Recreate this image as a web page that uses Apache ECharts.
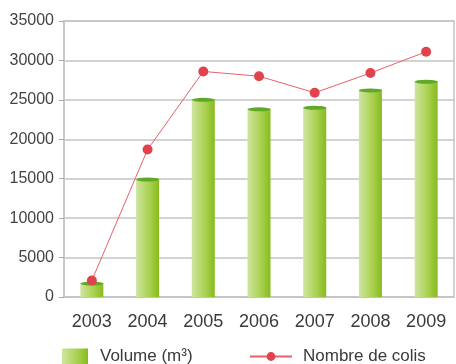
<!DOCTYPE html>
<html>
<head>
<meta charset="utf-8">
<script src="https://cdn.jsdelivr.net/npm/echarts@6/dist/echarts.min.js"></script>
<style>
  html, body { margin: 0; padding: 0; background: #fff; }
  #chart { width: 456px; height: 364px; }
</style>
</head>
<body>
<div id="chart"></div>
<script>
var years = ['2003', '2004', '2005', '2006', '2007', '2008', '2009'];
var volume = [1800, 15000, 25100, 23900, 24100, 26300, 27400];
var colis = [2100, 18700, 28600, 28000, 25900, 28400, 31100];
var yTicks = [0, 5000, 10000, 15000, 20000, 25000, 30000, 35000];

var chart = echarts.init(document.getElementById('chart'));

var barFill = new echarts.graphic.LinearGradient(0, 0, 1, 0, [
  { offset: 0, color: '#cfe5a0' },
  { offset: 0.6, color: '#a8d04e' },
  { offset: 1, color: '#86bb1c' }
]);

var font = 'Liberation Sans';

chart.setOption({
  animation: false,
  grid: {
    left: 64, right: 2, top: 21, bottom: 67,
    show: true, borderColor: '#c4c4c4', borderWidth: 1.5
  },
  legend: [
    {
      left: 62, top: 348, padding: 0,
      itemWidth: 26, itemHeight: 16,
      textStyle: { fontSize: 17, color: '#3a3a3a', fontFamily: font, padding: [0, 0, 0, 7] },
      data: [{ name: 'Volume (m³)', icon: 'rect' }]
    },
    {
      left: 249, top: 348, padding: 0,
      itemWidth: 42, itemHeight: 11,
      textStyle: { fontSize: 17, color: '#3a3a3a', fontFamily: font, padding: [0, 0, 0, 6] },
      data: [{ name: 'Nombre de colis' }]
    }
  ],
  xAxis: {
    type: 'category',
    data: years,
    boundaryGap: true,
    axisLine: { lineStyle: { color: '#c4c4c4', width: 1.5 } },
    axisTick: { length: 6, lineStyle: { color: '#aaa' } },
    axisLabel: { fontSize: 18, color: '#3a3a3a', margin: 16, fontFamily: font }
  },
  yAxis: {
    type: 'value',
    min: yTicks[0],
    max: yTicks[yTicks.length - 1],
    interval: 5000,
    axisLine: { show: true, lineStyle: { color: '#c4c4c4', width: 1.5 } },
    axisTick: { show: true, length: 5, lineStyle: { color: '#aaa' } },
    splitLine: { lineStyle: { color: '#c4c4c4', width: 1.5 } },
    axisLabel: {
      fontSize: 16, color: '#444', margin: 10, fontFamily: font,
      formatter: function (v) { return String(v); }
    }
  },
  series: [
    {
      name: 'Volume (m³)',
      type: 'bar',
      data: volume,
      barWidth: 23,
      itemStyle: { color: barFill }
    },
    {
      name: 'cap',
      type: 'pictorialBar',
      data: volume,
      symbol: 'circle',
      symbolSize: [23, 4],
      symbolPosition: 'end',
      symbolOffset: [0, '-30%'],
      itemStyle: { color: '#5fa82a' },
      z: 3
    },
    {
      name: 'Nombre de colis',
      type: 'line',
      data: colis,
      symbol: 'circle',
      symbolSize: 10,
      lineStyle: { color: '#e8606a', width: 1 },
      itemStyle: { color: '#e0434b' },
      z: 5
    }
  ]
});
</script>
</body>
</html>
